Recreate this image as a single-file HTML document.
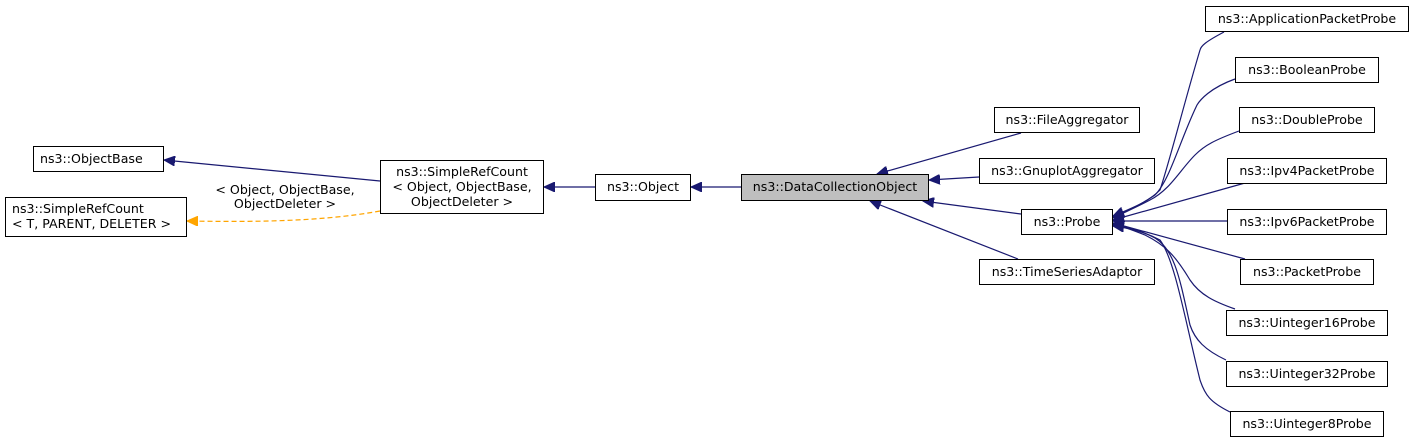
<!DOCTYPE html>
<html><head><meta charset="utf-8"><style>
html,body{margin:0;padding:0;background:#fff;}
svg{display:block;}
text{font-family:"DejaVu Sans","Liberation Sans",sans-serif;font-size:12.6px;fill:#000;}
rect{fill:#fff;stroke:#000;stroke-width:1;}
</style></head><body>
<svg width="1413" height="443" viewBox="0 0 1413 443" xmlns="http://www.w3.org/2000/svg">
<defs>
<marker id="a" markerWidth="12" markerHeight="10" refX="11" refY="5" orient="auto" markerUnits="userSpaceOnUse">
<path d="M0,0 L11,5 L0,10 Z" fill="#191970" stroke="#191970"/></marker>
<marker id="o" markerWidth="12" markerHeight="10" refX="11" refY="5" orient="auto" markerUnits="userSpaceOnUse">
<path d="M0,0 L11,5 L0,10 Z" fill="#ffa500" stroke="#ffa500"/></marker>
</defs>
<g fill="none" stroke="#191970" stroke-width="1.2">
<path d="M380,181 L164,160" marker-end="url(#a)"/>
<path d="M595,187 L544,187" marker-end="url(#a)"/>
<path d="M741,187 L691,187" marker-end="url(#a)"/>
<path d="M1021,133 L877,174" marker-end="url(#a)"/>
<path d="M979,177 L929,180" marker-end="url(#a)"/>
<path d="M1021,214 L923,201" marker-end="url(#a)"/>
<path d="M1018,259 L870,201" marker-end="url(#a)"/>
<path d="M1224,32 C1205,42 1201,46 1200,50 C1185,100 1170,160 1160,190 C1150,200 1140,205 1113,216" marker-end="url(#a)"/>
<path d="M1235,79 C1210,88 1200,100 1197,105 C1180,140 1170,180 1155,195 C1140,205 1130,210 1113,217" marker-end="url(#a)"/>
<path d="M1239,131 C1215,140 1205,145 1195,155 C1180,170 1170,190 1150,200 C1135,208 1125,212 1113,218" marker-end="url(#a)"/>
<path d="M1245,183 L1113,220" marker-end="url(#a)"/>
<path d="M1227,221 L1113,221" marker-end="url(#a)"/>
<path d="M1245,259 L1113,223" marker-end="url(#a)"/>
<path d="M1235,309 C1215,302 1200,295 1190,280 C1175,255 1165,245 1145,235 C1130,229 1122,226 1113,224" marker-end="url(#a)"/>
<path d="M1226,360 C1205,350 1195,340 1190,325 C1180,280 1175,250 1155,238 C1140,230 1125,226 1113,225" marker-end="url(#a)"/>
<path d="M1230,412 C1210,402 1205,395 1200,380 C1185,320 1175,260 1160,240 C1145,232 1130,228 1113,226" marker-end="url(#a)"/>
</g>
<path d="M380,211 C320,222 250,222 187,221" fill="none" stroke="#ffa500" stroke-width="1.2" stroke-dasharray="5,3" marker-end="url(#o)"/>
<text x="285" y="194" text-anchor="middle">&lt; Object, ObjectBase,</text>
<text x="285" y="208" text-anchor="middle">ObjectDeleter &gt;</text>

<rect x="33.5" y="146.5" width="130" height="25"/><text x="40" y="163">ns3::ObjectBase</text>
<rect x="5.5" y="197.5" width="181" height="39"/><text x="12" y="213">ns3::SimpleRefCount</text><text x="12" y="228">&lt; T, PARENT, DELETER &gt;</text>
<rect x="380.5" y="160.5" width="163" height="53"/><text x="462" y="176" text-anchor="middle">ns3::SimpleRefCount</text><text x="462" y="191" text-anchor="middle">&lt; Object, ObjectBase,</text><text x="462" y="206" text-anchor="middle">ObjectDeleter &gt;</text>
<rect x="595.5" y="174.5" width="95" height="26"/><text x="643" y="191" text-anchor="middle">ns3::Object</text>
<rect x="741.5" y="174.5" width="187" height="26" style="fill:#bfbfbf"/><text x="835" y="191" text-anchor="middle">ns3::DataCollectionObject</text>
<rect x="994.5" y="107.5" width="145" height="25"/><text x="1067" y="124" text-anchor="middle">ns3::FileAggregator</text>
<rect x="979.5" y="158.5" width="175" height="25"/><text x="1067" y="175" text-anchor="middle">ns3::GnuplotAggregator</text>
<rect x="1021.5" y="209.5" width="91" height="25"/><text x="1067" y="226" text-anchor="middle">ns3::Probe</text>
<rect x="979.5" y="259.5" width="175" height="25"/><text x="1067" y="276" text-anchor="middle">ns3::TimeSeriesAdaptor</text>
<rect x="1205.5" y="6.5" width="203" height="25"/><text x="1307" y="23" text-anchor="middle">ns3::ApplicationPacketProbe</text>
<rect x="1235.5" y="57.5" width="143" height="25"/><text x="1307" y="74" text-anchor="middle">ns3::BooleanProbe</text>
<rect x="1239.5" y="107.5" width="135" height="25"/><text x="1307" y="124" text-anchor="middle">ns3::DoubleProbe</text>
<rect x="1227.5" y="158.5" width="159" height="25"/><text x="1307" y="175" text-anchor="middle">ns3::Ipv4PacketProbe</text>
<rect x="1227.5" y="209.5" width="159" height="25"/><text x="1307" y="226" text-anchor="middle">ns3::Ipv6PacketProbe</text>
<rect x="1240.5" y="259.5" width="133" height="25"/><text x="1307" y="276" text-anchor="middle">ns3::PacketProbe</text>
<rect x="1226.5" y="310.5" width="161" height="25"/><text x="1307" y="327" text-anchor="middle">ns3::Uinteger16Probe</text>
<rect x="1226.5" y="361.5" width="161" height="25"/><text x="1307" y="378" text-anchor="middle">ns3::Uinteger32Probe</text>
<rect x="1230.5" y="411.5" width="153" height="25"/><text x="1307" y="428" text-anchor="middle">ns3::Uinteger8Probe</text>
</svg>
</body></html>
